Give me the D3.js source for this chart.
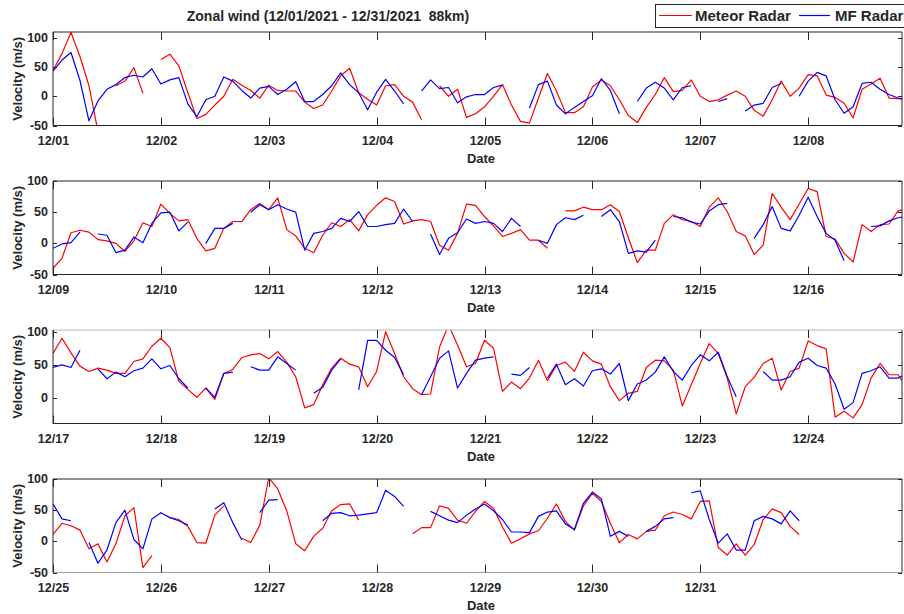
<!DOCTYPE html>
<html><head><meta charset="utf-8">
<script src="https://cdn.jsdelivr.net/npm/d3@7/dist/d3.min.js"></script>
<style>
body{margin:0;background:#fff}
text{font-family:"Liberation Sans",Arial,Helvetica,sans-serif;font-weight:bold;fill:#262626;white-space:pre}
</style>
</head><body>
<svg id="chart" width="904" height="614"></svg>
<script>
// ---------- data (2-hourly samples, 12 per day, null = no data) ----------
const dayLabels = ["12/01","12/02","12/03","12/04","12/05","12/06","12/07","12/08",
  "12/09","12/10","12/11","12/12","12/13","12/14","12/15","12/16",
  "12/17","12/18","12/19","12/20","12/21","12/22","12/23","12/24",
  "12/25","12/26","12/27","12/28","12/29","12/30","12/31"];
const panelFirstDay = [0, 8, 16, 24];
const panelTickCount = [8, 8, 8, 7];
const yDomains = [[-50, 110], [-50, 100], [-38.5, 102.5], [-50, 100]];
const yTickValues = [[-50, 0, 50, 100], [-50, 0, 50, 100], [0, 50, 100], [-50, 0, 50, 100]];
const seriesNames = ["Meteor Radar", "MF Radar"];
const seriesColors = ["#ff0000", "#0000ff"];

const meteor1 = [
  44, 73, 109, 68, 18, -60, null, 18, 26, 49, 5, null,
  63, 72, 52, 6, -38, -31, -15, 0, 29, 19, 10, -3,
  19, 10, 9, 9, -10, -21, -15, 9, 35, 48, 6, -5,
  -15, 18, 20, 0, -10, -40, null, 18, 0, 12, -36, -30,
  -18, 0, 20, -15, -43, -46, -3, 39, 9, -28, -28, -18,
  16, 28, 18, -6, -33, -45, -19, 3, 32, 8, 10, 28,
  0, -9, -6, 2, 9, 0, -24, -34, -6, 26, 0, 14,
  37, 35, 2, -2, -12, -37, 12, 21, 31, -3, -4, -6];
const mf1 = [
  43, 62, 75, 27, -42, -8, 12, 20, 32, 36, 33, 47,
  21, 28, 32, -13, -35, -6, 0, 33, 26, 10, -3, 14,
  17, 3, 12, 25, -9, -9, 3, 18, 40, 20, 6, -23,
  7, 29, 9, -13, null, 9, 28, 13, 15, -11, -1, 3,
  3, 15, 19, null, null, -20, 20, 26, -15, -30, -19, -9,
  1, 30, 10, -30, null, -9, 14, 24, 14, -6, 15, 18,
  null, null, -9, -4, null, -25, -15, -12, 15, 22, null, 0,
  26, 41, 35, -6, -29, -18, 22, 24, 12, 3, -3, -5];

const meteor2 = [
  -40, -24, 17, 21, 18, 6, 4, 0, -13, 4, 33, 27,
  63, 48, 36, 38, 8, -12, -8, 24, 35, 35, 54, 64,
  54, 73, 22, 12, -8, -15, 13, 33, 27, 38, 20, 46,
  61, 73, 67, 31, 36, 38, 35, -3, -11, 16, 63, 61,
  43, 28, 11, 16, 22, 5, 5, -8, null, 52, 52, 58,
  54, 54, 62, 51, 9, -31, -11, -11, 32, 46, 38, 35,
  27, 58, 73, 51, 19, 12, -18, -3, 80, 58, 38, 63,
  88, 83, 11, 7, -16, -30, 30, 19, 30, 31, 52, 56];
const mf2 = [
  -8, -1, 1, 18, null, 15, 13, -15, -11, 10, 1, 32,
  49, 50, 20, 34, null, 0, 24, 24, 32, null, 50, 62,
  54, 62, 55, 50, -11, 16, 19, 24, 40, 35, 51, 27,
  27, 30, 32, 55, 35, null, 15, -18, 8, 17, 39, 32,
  35, 32, 19, 40, 27, null, 5, 0, 30, 41, 38, 45,
  null, 43, 54, 35, -16, -12, -14, 5, null, 43, 41, 34,
  31, 52, 62, 64, null, null, 8, 30, 59, 24, 20, 45,
  74, 43, 16, 5, -28, null, null, 27, 28, 36, 41, 43];

const meteor3 = [
  67, 90, 68, 48, 40, 45, 42, 37, 37, 55, 59, 78,
  90, 76, 25, 13, 1, 15, -2, 37, 43, 61, 65, 67,
  59, 70, 54, 32, -15, -10, 20, 45, 60, 51, 47, 17,
  40, 100, 67, 32, 14, 5, 6, 77, 110, 80, 47, 52,
  87, 75, 10, 24, 14, 30, 57, 26, 49, 54, 40, 69,
  56, 51, 17, -4, 7, 10, 46, 57, 56, 42, -12, 20,
  52, 82, 67, 30, -24, 17, 31, 52, 60, 12, 40, 45,
  86, 79, 74, -29, -20, -30, -10, 30, 52, 35, 35, 15];
const mf3 = [
  46, 50, 46, 72, null, 44, 29, 39, 32, 41, 45, 59,
  44, 49, 29, 15, null, 15, 1, 37, 39, null, 47, 42,
  42, 62, 52, 42, null, 7, 16, 42, 59, null, 12, 87,
  87, 72, 61, 35, null, 5, 32, 60, 71, 15, 37, 57,
  60, 62, null, 36, 34, 46, null, 30, 51, 20, 29, 18,
  41, 44, 36, 52, -4, 21, 27, 39, 62, 40, 27, 49,
  65, 56, 69, 32, 2, null, null, 40, 27, 27, 32, 54,
  60, 49, 45, 21, -17, -7, 37, 41, 47, 30, 30, 37];

const meteor4 = [
  11, 29, 25, 18, -12, -4, -33, -4, 41, 54, -42, -23,
  null, 38, 35, 24, -2, -3, 42, 57, null, 5, -2, 26,
  102, 84, 49, -4, -15, 8, 21, 49, 59, 60, 34, null,
  null, null, null, null, 12, 22, 22, 57, 53, 34, 29, 48,
  64, 53, 23, -3, 4, 12, 17, 37, 60, 32, 18, 57,
  77, 64, 29, -2, 11, 4, 16, 18, 41, 47, 43, 36,
  64, 65, -10, -22, -4, -22, -5, 35, 52, 46, 24, 11,
  null, null, null, null, null, null, null, null, null, null, null, null];
const mf4 = [
  60, 36, 33, null, -2, -35, -14, 30, 50, 3, -12, 36,
  46, 38, 33, 26, null, null, 52, 62, 30, 2, null, 46,
  66, 67, null, null, null, null, 33, 45, 46, 41, 42, 44,
  46, 82, 72, 56, null, null, 48, 41, 34, 30, 42, 52,
  60, 49, 35, 15, 15, 14, 40, 47, 49, 28, 19, 61,
  79, 68, 8, 16, 8, null, 16, 24, 36, 38, null, 78,
  81, 35, -3, 12, -14, -14, 33, 40, 36, 28, 49, 33,
  null, null, null, null, null, null, null, null, null, null, null, null];

const meteorPanels = [meteor1, meteor2, meteor3, meteor4];
const mfPanels = [mf1, mf2, mf3, mf4];
const samplesPerDay = 12;

// ---------- layout ----------
const svg = d3.select("#chart");
const left = 53, right = 902;
const panelTop = [32, 181, 330, 479];
const panelH = 93.5;
const axisColor = "#262626";

svg.append("text").attr("x", 328).attr("y", 21).attr("text-anchor", "middle")
  .attr("xml:space", "preserve")
  .style("font-size", "14px").text("Zonal wind (12/01/2021 - 12/31/2021\u00a0 88km)");

for (let p = 0; p < 4; p++) {
  const top = panelTop[p], bottom = top + panelH;
  const x = d3.scaleLinear().domain([0, 7.87]).range([left, right]);
  const y = d3.scaleLinear().domain(yDomains[p]).range([bottom, top]);
  const g = svg.append("g");

  g.append("clipPath").attr("id", "clip" + p).append("rect")
    .attr("x", left).attr("y", top).attr("width", right - left).attr("height", panelH);

  const line = d3.line()
    .defined(d => d != null)
    .x((d, i) => x(i / samplesPerDay))
    .y(d => y(d));

  const series = [meteorPanels[p], mfPanels[p]];
  series.forEach((vals, s) => {
    g.append("path").attr("clip-path", "url(#clip" + p + ")")
      .attr("d", line(vals)).attr("fill", "none")
      .attr("stroke", seriesColors[s]).attr("stroke-width", 1.2)
      .attr("stroke-linejoin", "round");
  });

  // box
  const topColor = p === 2 ? "#b8b8b8" : axisColor;
  const botColor = p === 3 ? "#a0a0a0" : axisColor;
  g.append("line").attr("x1", left).attr("x2", right).attr("y1", top).attr("y2", top).attr("stroke", topColor);
  g.append("line").attr("x1", left).attr("x2", right).attr("y1", bottom).attr("y2", bottom).attr("stroke", botColor);
  g.append("line").attr("x1", left).attr("x2", left).attr("y1", top).attr("y2", bottom).attr("stroke", axisColor);
  g.append("line").attr("x1", right).attr("x2", right).attr("y1", top).attr("y2", bottom).attr("stroke", axisColor);

  // x ticks
  const xt = d3.range(panelTickCount[p]);
  xt.forEach(k => {
    const xx = Math.round(x(k)) + 0.5;
    g.append("line").attr("x1", xx).attr("x2", xx).attr("y1", bottom).attr("y2", bottom - 8).attr("stroke", axisColor);
    g.append("line").attr("x1", xx).attr("x2", xx).attr("y1", top).attr("y2", top + 8).attr("stroke", axisColor);
    g.append("text").attr("x", xx).attr("y", bottom + 19).attr("text-anchor", "middle")
      .style("font-size", "12.5px").text(dayLabels[panelFirstDay[p] + k]);
  });
  g.append("text").attr("x", 481).attr("y", bottom + 37).attr("text-anchor", "middle")
    .style("font-size", "13px").text("Date");

  // y ticks
  yTickValues[p].forEach(v => {
    const yy = Math.round(y(v)) + 0.5;
    g.append("line").attr("x1", left).attr("x2", left + 4).attr("y1", yy).attr("y2", yy).attr("stroke", axisColor);
    g.append("line").attr("x1", right).attr("x2", right - 4).attr("y1", yy).attr("y2", yy).attr("stroke", axisColor);
    g.append("text").attr("x", 48).attr("y", yy).attr("dy", "0.3em").attr("text-anchor", "end")
      .style("font-size", "12.5px").text(v);
  });
  g.append("text").attr("transform", `translate(22,${top + panelH / 2}) rotate(-90)`)
    .attr("text-anchor", "middle").style("font-size", "13px").text("Velocity (m/s)");
}

// legend
const lg = svg.append("g");
lg.append("rect").attr("x", 655.5).attr("y", 4.5).attr("width", 260).attr("height", 23)
  .attr("fill", "#fff").attr("stroke", axisColor);
const legendX = [[659, 692, 695], [799, 830, 835]];
seriesNames.forEach((n, i) => {
  lg.append("line").attr("x1", legendX[i][0]).attr("x2", legendX[i][1]).attr("y1", 15.5).attr("y2", 15.5)
    .attr("stroke", seriesColors[i]).attr("stroke-width", 1.2);
  lg.append("text").attr("x", legendX[i][2]).attr("y", 21).style("font-size", "15px").text(n);
});
</script>
</body></html>
